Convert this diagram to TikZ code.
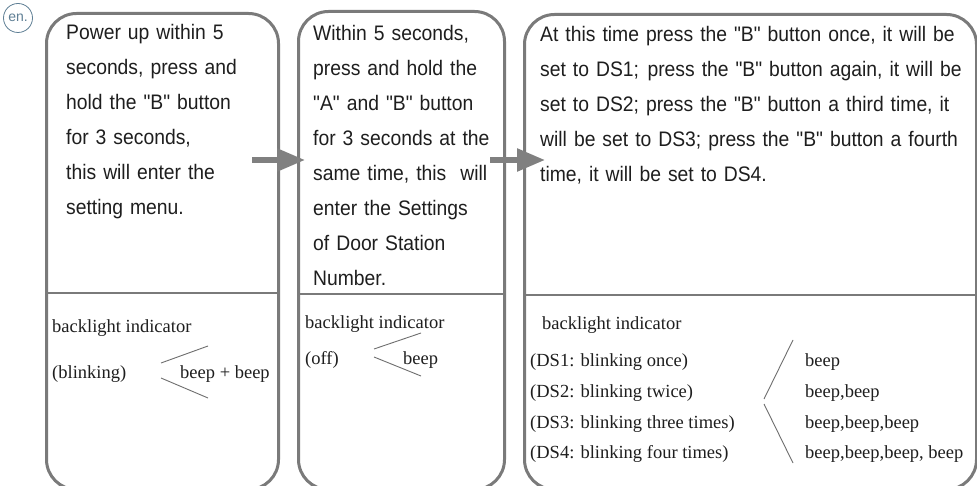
\documentclass[tikz,border=0pt]{standalone}
\usepackage{fontspec}
\setmainfont{Liberation Sans}[Ligatures=TeXOff]
\newfontfamily\narrowfam{Liberation Sans}[Ligatures=TeXOff, FakeStretch=0.92]
\newfontfamily\seriffam{Liberation Serif}
\usetikzlibrary{arrows.meta}
\definecolor{boxgray}{HTML}{7A7A7A}
\definecolor{arrowgray}{HTML}{808080}
\definecolor{txt}{HTML}{1E1E1E}
\definecolor{encol}{HTML}{5F7F95}
\definecolor{linegray}{HTML}{6E6E6E}
\begin{document}
\begin{tikzpicture}[x=1pt,y=-1pt,
  box/.style={draw=boxgray, line width=3pt, rounded corners=30pt, rectangle, anchor=north west, inner sep=0pt},
  divider/.style={draw=boxgray, line width=2pt},
  toptext/.style={anchor=base west, inner sep=0pt, align=left, text width=440pt, font=\narrowfam\fontsize{21}{35}\selectfont, text=txt},
  bottext/.style={anchor=base west, inner sep=0pt, font=\seriffam\fontsize{18.5}{22}\selectfont, text=txt},
  thinline/.style={draw=linegray, line width=0.9pt},
  flow/.style={draw=arrowgray, line width=5.5pt, -{Triangle[length=28pt,width=22pt]}}]
\useasboundingbox (0,0) rectangle (977,486);
\clip (0,0) rectangle (977,486);
\fill[white] (0,0) rectangle (977,486);

% en. badge
\node[circle, draw=encol, line width=0.8pt, minimum size=29pt, inner sep=0pt, text=encol, font=\fontsize{14}{14}\selectfont] (en) at (18,18) {en.};

% boxes
\node[box, minimum width=232pt, minimum height=476pt] (b1) at (45,12) {};
\node[box, minimum width=206pt, minimum height=478pt] (b2) at (297,10) {};
\node[box, minimum width=452pt, minimum height=475pt] (b3) at (523,13) {};

\draw[divider] (b1.west |- 0,293) -- (b1.east |- 0,293);
\draw[divider] (b2.west |- 0,294) -- (b2.east |- 0,294);
\draw[divider] (b3.west |- 0,295) -- (b3.east |- 0,295);

% top texts
\node[toptext] (t1) at (66,40) {Power up within 5\\ seconds, press and\\ hold the "B" button\\ for 3 seconds,\\ this will enter the\\ setting menu.};
\node[toptext] (t2) at (313,41) {Within 5 seconds,\\ press and hold the\\ "A" and "B" button\\ for 3 seconds at the\\ same time, this\ \ will\\ enter the Settings\\ of Door Station\\ Number.};
\node[toptext] (t3) at (540,42) {At this time press the "B" button once, it will be\\ set to DS1;\hspace{1.5pt} press the "B" button again, it will be\\ set to DS2; press the "B" button a third time, it\\ will be set to DS3; press the "B" button a fourth\\ time, it will be set to DS4.};

% bottom box 1
\node[bottext] (bl1) at (52,332) {backlight indicator};
\node[bottext] (s1) at (52,378) {(blinking)};
\node[bottext] (p1) at (180,378) {beep + beep};
\draw[thinline] (161,363) -- (208,346);
\draw[thinline] (161,378) -- (208,398);

% bottom box 2
\node[bottext] (bl2) at (305,328) {backlight indicator};
\node[bottext] (s2) at (305,364) {(off)};
\node[bottext] (p2) at (403,364) {beep};
\draw[thinline] (374,349) -- (421,333);
\draw[thinline] (374,357) -- (421,376);

% bottom box 3
\node[bottext] (bl3) at (542,330) {backlight indicator};
\node[bottext] (d1) at (530,366) {(DS1: blinking once)};
\node[bottext] (d2) at (530,397) {(DS2: blinking twice)};
\node[bottext] (d3) at (530,428) {(DS3: blinking three times)};
\node[bottext] (d4) at (530,458) {(DS4: blinking four times)};
\node[bottext] (e1) at (805,366) {beep};
\node[bottext] (e2) at (805,397) {beep,beep};
\node[bottext] (e3) at (805,428) {beep,beep,beep};
\node[bottext] (e4) at (805,458) {beep,beep,beep, beep};
\draw[thinline] (793,340) -- (764,399);
\draw[thinline] (764,404) -- (793,463);

% arrows
\coordinate (a1s) at (252,160);
\coordinate (a1e) at (305,160);
\coordinate (a2s) at (490,160);
\coordinate (a2e) at (545,160);
\draw[flow] (a1s) -- (a1e);
\draw[flow] (a2s) -- (a2e);
\end{tikzpicture}
\end{document}
